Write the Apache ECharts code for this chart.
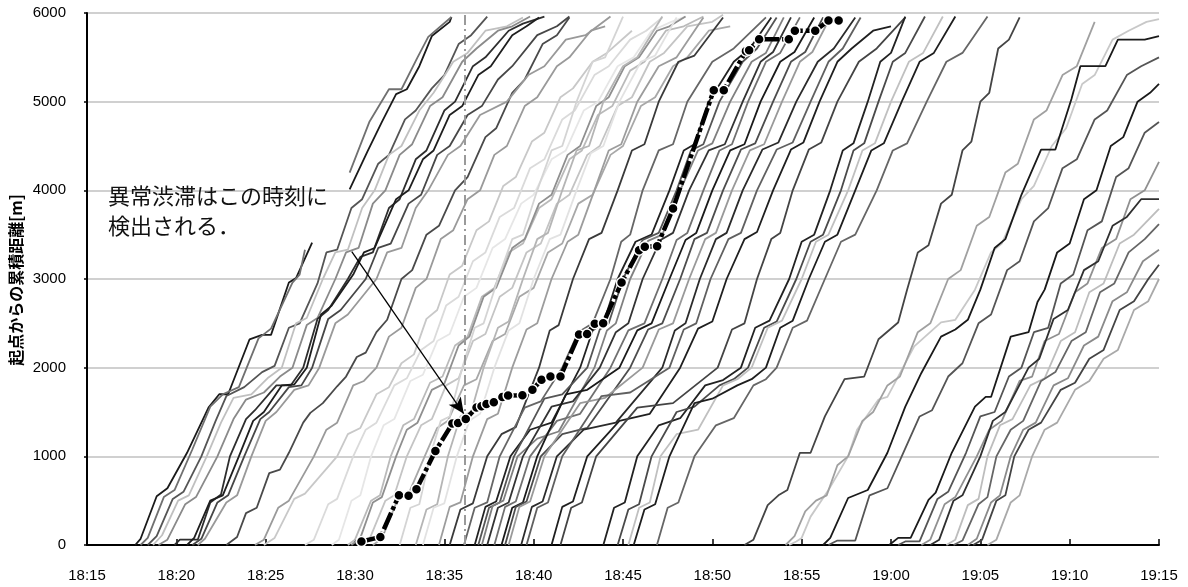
<!DOCTYPE html>
<html><head><meta charset="utf-8">
<script src="https://cdn.jsdelivr.net/npm/echarts/dist/echarts.min.js"></script>
<style>html,body{margin:0;padding:0;background:#fff}#c{width:1188px;height:587px}</style>
</head><body><div id="c"></div>
<script>
// x values: minutes after 18:15 ; y values: cumulative distance [m]
const xTickLabels = ['18:15','18:20','18:25','18:30','18:35','18:40','18:45','18:50','18:55','19:00','19:05','19:10','19:15'];
const yTickLabels = ['0','1000','2000','3000','4000','5000','6000'];
const detectTime = 21.14;
const arrowFrom = [14.82, 3310];
const arrowTo = [21.09, 1480];
const noteLines = ['異常渋滞はこの時刻に', '検出される．'];
const yName = '起点からの累積距離[m]';

// highlighted vehicle
const hlPath = [[15.36,40],[16.42,90],[17.46,560],[18.0,555],[18.44,630],[19.5,1060],[20.45,1370],[20.77,1375],[21.2,1420],[21.8,1550],[22.08,1565],[22.36,1590],[22.77,1610],[23.25,1670],[23.57,1685],[24.37,1690],[24.93,1750],[25.44,1865],[25.94,1900],[26.5,1900],[27.54,2375],[27.99,2380],[28.42,2495],[28.89,2500],[29.92,2960],[30.9,3325],[31.22,3365],[31.91,3370],[32.8,3795],[35.08,5130],[35.64,5130],[36.88,5570],[37.06,5580],[37.62,5705],[39.28,5705],[39.62,5800],[40.76,5800],[41.5,5915],[42.07,5915]];

// early vehicles
const groupA = [
 [[2.7,0],[3.0,70],[3.9,550],[4.5,640],[5.6,1040],[6.8,1550],[7.4,1700],[7.9,1700],[9.1,2320],[9.8,2370],[10.3,2370],[11.3,2960],[11.7,3010],[12.6,3410]],
 [[14.7,4010],[15.7,4440],[16.5,4770],[17.3,5085],[17.9,5140],[18.6,5400],[19.3,5740],[20.3,5900],[20.4,5955]],
 [[3.0,0],[3.4,80],[4.3,540],[4.9,620],[5.9,1080],[6.9,1560],[7.6,1700],[8.5,1780],[9.6,2330],[10.3,2440],[11.5,2960],[11.9,3050],[12.2,3330]],
 [[14.7,4200],[15.8,4770],[16.9,5140],[17.6,5140],[18.5,5500],[19.1,5730],[20.4,5955]],
 [[3.4,0],[3.9,100],[4.8,520],[5.4,600],[6.4,1000],[7.2,1400],[7.8,1680],[8.8,1780],[9.8,1950],[10.5,2020],[11.3,2450],[11.9,2500],[12.9,2950],[13.4,3300],[14.0,3330],[14.8,3800],[15.4,3900],[16.3,4300],[16.9,4400],[17.8,4800],[18.4,4900],[19.3,5150],[20.0,5300],[20.8,5650],[21.5,5750],[22.4,5960]],
 [[3.7,0],[4.2,110],[5.1,500],[5.7,560],[6.7,1000],[7.5,1380],[8.2,1660],[9.2,1700],[10.1,1880],[10.9,2000],[11.7,2500],[12.3,2560],[13.2,3000],[13.9,3300],[14.6,3330],[15.4,3800],[16.1,4000],[16.9,4400],[17.6,4500],[18.6,4900],[19.4,5100],[20.5,5450],[21.3,5550],[22.3,5800],[23.5,5850],[24.4,5950]],
 [[4.0,0],[4.5,60],[5.5,460],[6.1,540],[7.3,1000],[8.2,1420],[8.9,1640],[9.9,1720],[10.8,1900],[11.5,2000],[12.3,2480],[12.9,2560],[13.9,3000],[14.5,3300],[15.2,3350],[16.0,3850],[16.7,4000],[17.5,4400],[18.2,4520],[19.2,4950],[19.9,5050],[21.0,5450],[21.8,5600],[23.0,5800],[23.8,5850],[24.8,5960]],
 [[4.9,0],[5.2,60],[6.2,60],[6.9,480],[7.5,570],[8.0,1000],[8.9,1420],[9.4,1520],[10.6,1800],[11.4,1800],[12.1,2000],[12.9,2550],[13.5,2650],[14.6,3000],[15.3,3250],[16.0,3300],[16.9,3800],[17.5,3900],[18.4,4350],[19.0,4450],[20.0,4900],[20.6,5000],[21.6,5400],[22.3,5500],[23.6,5800],[24.4,5880],[25.6,5960]],
 [[5.6,0],[6.0,80],[6.9,500],[7.6,560],[8.5,1000],[9.3,1400],[9.9,1500],[10.9,1800],[11.6,1810],[12.3,2000],[13.1,2600],[13.7,2700],[14.9,3050],[15.5,3300],[16.1,3350],[17.3,3900],[18.0,4000],[18.8,4350],[19.4,4450],[20.3,4850],[21.0,4950],[21.9,5300],[22.6,5400],[23.8,5750],[24.6,5850],[25.3,5950]],
 [[5.9,0],[6.4,70],[7.3,480],[7.9,560],[8.8,1000],[9.7,1420],[10.2,1500],[11.3,1780],[12.0,1800],[12.6,2000],[13.5,2550],[14.2,2650],[15.6,3000],[16.3,3350],[17.0,3400],[18.0,3850],[18.7,3950],[19.6,4400],[20.3,4500],[21.3,4850],[22.1,4950],[23.0,5250],[23.8,5400],[25.2,5750],[26.3,5850],[27.0,5960]],
 [[6.2,0],[6.6,70],[7.8,480],[8.4,560],[9.2,1000],[10.0,1400],[10.6,1500],[11.6,1750],[12.4,1800],[13.0,2000],[13.9,2500],[14.6,2600],[16.2,3000],[16.8,3300],[17.6,3350],[18.4,3800],[19.1,4000],[20.2,4400],[20.9,4500],[22.0,4850],[23.5,5000],[24.7,5300],[25.6,5400],[26.8,5700],[27.9,5750],[29.3,5960]]
];
const colorsA = ['#1a1a1a','#1a1a1a','#707070','#707070','#555555','#c0c0c0','#8a8a8a','#2e2e2e','#1e1e1e','#474747','#999999'];

// second wave, mostly light
const groupB = [
 [[7.8,0],[8.4,90],[8.9,360],[9.5,420],[10.2,810],[10.8,850],[11.3,1040],[12.1,1380],[12.5,1490],[13.2,1600],[14.0,1790],[14.5,1900],[15.1,2120],[15.6,2170],[16.2,2400],[16.8,2540],[17.6,3000],[18.2,3100],[19.0,3500],[19.7,3600],[20.6,4000],[21.3,4150],[22.3,4600],[22.9,4700],[23.8,5100],[24.5,5250],[25.5,5650],[26.3,5750],[27.0,5950]],
 [[9.4,0],[9.9,60],[10.7,420],[11.3,500],[12.7,1000],[13.4,1300],[14.0,1380],[14.9,1800],[15.5,1850],[16.2,2000],[16.9,2350],[17.6,2450],[18.4,2900],[19.0,3000],[19.8,3450],[20.5,3550],[21.3,3900],[22.0,4000],[22.8,4400],[23.5,4500],[24.5,4950],[25.2,5050],[26.3,5400],[27.0,5500],[28.2,5800],[29.0,5850]],
 [[9.9,0],[10.5,80],[11.6,520],[12.2,580],[14.0,1000],[14.6,1250],[15.3,1320],[16.2,1700],[16.9,1780],[17.6,2050],[18.3,2150],[19.0,2550],[19.6,2650],[20.3,3050],[21.0,3150],[21.8,3550],[22.5,3650],[23.3,4050],[24.0,4150],[24.9,4550],[25.6,4650],[26.5,5050],[27.2,5150],[28.3,5450],[29.1,5550],[30.5,5800]],
 [[12.2,0],[12.7,60],[13.5,460],[14.0,520],[14.9,1000],[15.6,1300],[16.2,1380],[17.2,1800],[17.9,1880],[18.7,2200],[19.4,2300],[20.1,2700],[20.8,2800],[21.6,3200],[22.3,3300],[23.1,3700],[23.9,3800],[24.8,4250],[25.6,4350],[26.6,4800],[27.3,4900],[28.4,5300],[29.2,5400],[30.4,5700],[31.3,5800],[32.2,5950]],
 [[13.7,0],[14.1,60],[14.8,500],[15.3,560],[15.9,1000],[16.6,1350],[17.2,1420],[18.1,1850],[18.8,1920],[19.6,2300],[20.3,2380],[21.1,2800],[21.8,2900],[22.7,3350],[23.4,3450],[24.3,3850],[25.0,3950],[26.0,4350],[26.8,4450],[27.8,4900],[28.6,5000],[29.7,5400],[30.6,5500],[31.6,5800],[32.7,5900],[33.5,5960]],
 [[14.6,0],[15.0,60],[15.9,500],[16.4,560],[17.0,1000],[17.7,1350],[18.3,1420],[19.2,1830],[19.9,1900],[20.6,2250],[21.3,2350],[22.1,2800],[22.8,2900],[23.6,3300],[24.4,3400],[25.3,3800],[26.0,3900],[27.0,4350],[27.7,4450],[28.6,4850],[29.4,4950],[30.4,5350],[31.2,5450],[32.4,5800],[33.4,5850],[34.5,5960]],
 [[14.8,0],[15.3,80],[16.0,480],[16.5,540],[17.3,1000],[17.9,1300],[18.5,1380],[19.3,1750],[20.0,1820],[20.8,2250],[21.4,2350],[22.2,2800],[22.9,2900],[23.8,3350],[24.5,3450],[25.3,3850],[26.0,3950],[26.9,4400],[27.6,4500],[28.5,4950],[29.2,5050],[30.1,5400],[30.9,5500],[31.9,5800],[32.6,5850],[33.5,5960]],
 [[15.3,0],[15.8,60],[16.7,500],[17.2,560],[17.9,1000],[18.7,1350],[19.3,1420],[20.1,1800],[20.8,1880],[21.6,2300],[22.3,2380],[23.1,2800],[23.8,2900],[24.6,3300],[25.4,3400],[26.3,3850],[27.0,3950],[28.0,4400],[28.7,4500],[29.7,4950],[30.5,5050],[31.5,5450],[32.3,5550],[33.6,5850],[35.0,5900],[35.6,5980]],
 [[16.0,0],[16.5,70],[17.4,520],[18.0,580],[18.9,1000],[19.6,1320],[20.2,1400],[21.1,1800],[21.8,1870],[22.7,2300],[23.4,2380],[24.2,2800],[25.0,2900],[25.8,3300],[26.6,3400],[27.5,3850],[28.3,3950],[29.3,4400],[30.0,4500],[31.0,4950],[31.8,5050],[32.8,5400],[33.6,5500],[34.8,5800],[36.0,5850]]
];
const colorsB = ['#4a4a4a','#9a9a9a','#c8c8c8','#dadada','#e6e6e6','#bababa','#8f8f8f','#c4c4c4','#a8a8a8'];

// dense wave around the incident
const groupC = [
 [[17.5,0],[18.1,420],[18.6,460],[19.2,1000],[19.8,1400],[20.3,1450],[21.0,2000],[21.7,2450],[22.2,2500],[23.0,3000],[23.8,3450],[24.4,3500],[25.2,4000],[26.0,4450],[26.6,4500],[27.4,5000],[28.3,5450],[29.0,5500],[30.0,5960]],
 [[18.4,0],[19.0,400],[19.6,460],[20.2,1000],[20.9,1450],[21.5,1500],[22.2,2000],[23.0,2450],[23.6,2520],[24.4,3000],[25.2,3450],[25.8,3520],[26.6,4000],[27.4,4450],[28.1,4500],[28.9,5000],[30.0,5400],[30.8,5500],[32.2,5960]],
 [[18.8,0],[19.4,420],[20.0,470],[20.7,1000],[21.4,1400],[22.0,1480],[22.8,2000],[23.6,2420],[24.2,2500],[25.0,3000],[25.9,3450],[26.5,3500],[27.4,4000],[28.2,4420],[28.9,4500],[29.8,5000],[31.0,5450],[31.8,5520],[33.0,5950]],
 [[19.7,0],[20.3,430],[20.9,480],[21.6,1000],[22.4,1420],[23.0,1480],[23.8,2000],[24.6,2430],[25.2,2500],[26.0,3000],[26.9,3420],[27.5,3500],[28.4,4000],[29.2,4450],[29.9,4520],[30.8,5000],[32.0,5400],[33.0,5500],[34.5,5950]],
 [[20.3,0],[20.9,400],[21.6,470],[22.4,1000],[23.2,1250],[24.0,1330],[25.3,2000],[25.9,2420],[26.4,2480],[27.2,3000],[28.1,3450],[28.8,3520],[29.7,4000],[30.5,4450],[31.2,4520],[32.0,5000],[33.1,5450],[34.0,5520],[35.6,5950]],
 [[21.1,0],[21.7,420],[22.4,480],[23.1,1000],[24.5,1550],[25.4,1620],[26.6,2000],[27.5,2400],[28.3,2500],[29.3,3000],[29.9,3420],[30.4,3500],[31.1,4000],[32.0,4450],[32.8,4520],[33.6,5000],[35.0,5450],[36.2,5600],[38.0,5950]],
 [[21.7,0],[22.3,430],[22.9,490],[23.7,1000],[24.8,1300],[26.0,1380],[27.6,2000],[28.3,2420],[28.9,2500],[29.7,3000],[30.7,3420],[31.6,3500],[32.6,4000],[33.4,4450],[34.0,4520],[34.8,5000],[36.2,5450],[37.1,5600],[38.3,5950]],
 [[21.9,0],[22.5,420],[23.1,480],[23.9,1000],[25.6,1650],[26.6,1700],[28.0,2000],[28.7,2430],[29.2,2500],[30.0,3000],[31.1,3440],[32.0,3520],[33.0,4000],[33.8,4450],[34.5,4520],[35.4,5000],[36.7,5450],[37.5,5600],[38.6,5950]],
 [[22.1,0],[22.7,440],[23.3,500],[24.1,1000],[25.2,1200],[26.4,1280],[28.4,2000],[29.1,2420],[29.6,2500],[30.4,3000],[31.4,3430],[32.2,3500],[33.2,4000],[34.2,4450],[35.0,4530],[36.0,5000],[37.2,5450],[38.0,5550],[39.0,5950]],
 [[22.4,0],[23.0,420],[23.6,480],[24.4,1000],[26.0,1560],[27.2,1620],[28.7,2000],[29.6,2400],[30.3,2500],[31.1,3000],[32.1,3440],[32.8,3520],[33.7,4000],[34.8,4450],[35.7,4520],[36.7,5000],[37.7,5450],[38.4,5560],[39.4,5950]],
 [[22.8,0],[23.4,430],[24.0,490],[24.8,1000],[26.3,1400],[27.6,1480],[29.3,2000],[30.3,2420],[31.2,2500],[32.2,3000],[33.0,3440],[33.6,3520],[34.5,4000],[35.4,4450],[36.1,4520],[37.0,5000],[38.0,5450],[38.8,5550],[39.9,5950]],
 [[23.2,0],[23.8,420],[24.4,480],[25.2,1000],[26.8,1700],[28.0,1750],[29.8,2000],[30.8,2420],[31.6,2500],[32.6,3000],[33.5,3440],[34.1,3520],[35.0,4000],[36.0,4450],[36.8,4520],[37.7,5000],[38.8,5450],[39.6,5560],[40.7,5950]],
 [[23.4,0],[24.0,430],[24.6,490],[25.4,1000],[26.6,1250],[28.0,1320],[30.4,2000],[31.4,2430],[32.2,2500],[33.2,3000],[34.0,3450],[34.7,3520],[35.6,4000],[36.6,4460],[37.4,4530],[38.4,5000],[39.4,5450],[40.2,5560],[41.2,5950]],
 [[23.6,0],[24.2,430],[24.8,490],[25.6,1000],[27.6,1600],[29.0,1660],[31.1,2000],[32.0,2430],[32.8,2500],[33.7,3000],[34.6,3450],[35.2,3520],[36.1,4000],[37.1,4450],[37.9,4520],[38.9,5000],[39.9,5450],[40.6,5560],[41.6,5950]],
 [[24.3,0],[24.9,430],[25.5,490],[26.3,1000],[27.8,1300],[29.6,1380],[32.2,2000],[32.9,2420],[33.5,2500],[34.3,3000],[35.2,3450],[35.8,3520],[36.7,4000],[37.8,4460],[38.7,4540],[39.7,5000],[40.9,5450],[41.8,5600],[43.0,5950]],
 [[24.6,0],[25.2,420],[25.8,480],[26.6,1000],[28.8,1680],[30.4,1720],[32.6,2000],[33.4,2430],[34.1,2500],[34.9,3000],[35.9,3450],[36.6,3520],[37.5,4000],[38.6,4460],[39.5,4540],[40.5,5000],[41.5,5450],[42.3,5600],[43.3,5950]],
 [[26.0,0],[26.6,430],[27.2,490],[28.0,1000],[29.8,1400],[31.5,1480],[33.2,2000],[34.2,2440],[35.0,2520],[35.8,3000],[36.8,3450],[37.5,3530],[38.4,4000],[39.4,4460],[40.1,4540],[41.0,5000],[42.0,5450],[42.8,5600],[44.0,5800],[45.0,5850]],
 [[26.5,0],[27.1,420],[27.7,480],[28.5,1000],[30.8,1550],[32.8,1600],[35.3,2000],[36.1,2430],[36.8,2500],[37.5,3000],[38.3,3450],[38.8,3520],[39.5,4000],[40.4,4460],[41.1,4540],[42.0,5000],[43.2,5450],[44.2,5600],[45.8,5950]]
];
const colorsC = ['#d4d4d4','#b5b5b5','#e2e2e2','#9c9c9c','#3a3a3a','#666666','#222222','#555555','#808080','#333333','#707070','#1a1a1a','#4d4d4d','#999999','#2b2b2b','#606060','#1f1f1f','#444444'];

// queue-affected wave
const groupD = [
 [[28.9,0],[29.5,420],[30.1,480],[30.8,1000],[32.0,1350],[33.2,1430],[34.6,1800],[35.6,1860],[36.6,2000],[37.4,2450],[38.2,2530],[39.3,3000],[40.0,3420],[40.7,3500],[41.6,4000],[42.3,4450],[42.9,4530],[43.7,5000],[44.4,5450],[45.0,5550],[45.8,5960]],
 [[29.7,0],[30.3,400],[30.9,460],[31.6,1000],[33.0,1500],[34.0,1560],[35.4,1800],[36.2,1870],[37.0,2000],[37.9,2450],[38.6,2520],[39.7,3000],[40.5,3420],[41.2,3500],[42.2,4000],[42.9,4450],[43.5,4530],[44.3,5000],[45.1,5450],[45.8,5550],[46.9,5960]],
 [[30.3,0],[30.9,420],[31.5,480],[32.1,1000],[33.0,1250],[34.2,1300],[35.6,1800],[36.4,1870],[37.2,2000],[38.1,2450],[38.9,2530],[40.0,3000],[40.8,3420],[41.5,3500],[42.6,4000],[43.4,4450],[44.1,4530],[45.0,5000],[46.0,5450],[46.8,5550],[47.9,5960]],
 [[30.6,0],[31.2,400],[31.8,460],[32.6,1000],[34.0,1600],[35.0,1650],[36.4,1800],[37.2,1870],[38.0,2000],[38.8,2450],[39.5,2530],[40.4,3000],[41.3,3420],[42.0,3500],[43.0,4000],[43.9,4450],[44.6,4530],[45.6,5000],[46.6,5450],[47.4,5550],[48.6,5960]],
 [[31.9,0],[32.5,420],[33.1,480],[34.0,1000],[35.2,1350],[36.2,1430],[37.3,1800],[38.0,1870],[38.6,2000],[39.5,2450],[40.3,2530],[41.3,3000],[42.2,3420],[43.0,3500],[44.2,4000],[45.1,4450],[45.9,4530],[47.0,5000],[48.1,5450],[49.0,5550],[50.4,5960]]
];
const colorsD = ['#222222','#4a4a4a','#c0c0c0','#1e1e1e','#666666'];

const groupE = [
 [[36.8,0],[37.3,60],[38.1,450],[38.7,560],[39.2,620],[39.9,1040],[40.5,1040],[41.3,1450],[42.4,1870],[43.5,1900],[44.3,2320],[45.4,2510],[45.9,2880],[46.5,3300],[47.1,3380],[47.8,3850],[48.4,3950],[49.0,4450],[49.5,4550],[50.0,5000],[50.5,5100],[51.0,5600],[51.6,5700],[52.2,5950]],
 [[39.3,0],[39.7,40],[40.0,80],[40.5,320],[41.5,620],[42.6,1000],[43.1,1300],[44.3,1640],[44.8,1670],[46.3,2240],[47.8,2510],[48.6,2540],[49.7,2880],[50.6,3300],[51.2,3400],[52.3,3900],[53.0,4050],[54.0,4500],[54.8,4700],[55.7,5200],[56.4,5300],[57.4,5700],[58.3,5800],[59.3,5900],[60,5930]],
 [[41.2,0],[41.6,80],[42.6,530],[43.7,620],[44.8,1040],[45.8,1560],[46.7,1940],[47.8,2350],[48.6,2430],[49.3,2540],[50.0,2880],[50.8,3350],[51.4,3450],[52.3,3950],[53.4,4460],[54.2,4460],[55.1,5030],[55.6,5400],[57.0,5400],[57.7,5700],[59.2,5700],[60,5740]],
 [[41.5,0],[42.0,50],[43.0,50],[43.8,560],[44.8,640],[45.6,1000],[46.6,1450],[47.3,1520],[48.2,1900],[49.0,2050],[49.9,2500],[50.6,2600],[51.5,3100],[52.2,3200],[53.0,3650],[53.8,3800],[54.6,4250],[55.4,4350],[56.4,4800],[57.1,4900],[58.2,5300],[59.0,5400],[60,5500]],
 [[39.1,0],[39.6,100],[40.2,380],[40.8,500],[41.4,560],[42.0,900],[42.6,1000],[43.4,1400],[44.0,1500],[44.8,1800],[45.5,1900],[46.5,2400],[47.2,2500],[48.2,3000],[48.9,3100],[49.8,3600],[50.5,3700],[51.4,4200],[52.1,4300],[53.0,4800],[53.7,4900],[54.6,5300],[55.4,5400],[56.4,5900]]
];
const colorsE = ['#444444','#c8c8c8','#1a1a1a','#555555','#a0a0a0'];

const groupF = [
 [[44.9,0],[45.4,80],[46.1,80],[47.1,510],[47.5,590],[48.4,1040],[49.7,1560],[50.3,1670],[50.6,1670],[51.7,2350],[52.7,2400],[53.2,2740],[53.6,2880],[54.3,3300],[55.0,3400],[55.8,3900],[56.5,4000],[57.3,4500],[58.0,4600],[58.8,5000],[59.5,5100],[60,5200]],
 [[45.4,0],[45.8,40],[46.6,40],[47.6,520],[48.2,600],[49.2,1040],[50.0,1450],[50.8,1500],[51.6,1900],[52.3,2000],[53.0,2400],[53.8,2450],[54.5,2950],[55.2,3050],[56.0,3550],[56.8,3650],[57.6,4150],[58.3,4250],[59.2,4650],[60,4770]],
 [[46.7,0],[47.2,60],[48.0,460],[48.6,540],[49.8,1000],[50.5,1300],[51.2,1400],[52.2,1850],[52.9,1900],[53.6,2300],[54.4,2380],[55.3,2850],[56.0,2950],[56.8,3350],[57.6,3450],[58.4,3900],[59.2,4000],[60,4320]],
 [[47.2,0],[47.7,60],[48.5,500],[49.0,560],[50.0,1000],[50.7,1400],[51.4,1500],[52.7,2000],[53.3,2100],[54.1,2550],[54.9,2650],[55.8,3100],[56.6,3200],[57.4,3600],[58.2,3700],[59.0,3900],[60,3900]],
 [[48.1,0],[48.6,60],[49.3,450],[49.9,520],[50.4,1000],[51.1,1350],[51.8,1420],[52.8,1800],[53.6,1880],[54.5,2300],[55.3,2400],[56.1,2850],[56.9,2950],[57.8,3400],[58.6,3500],[60,3790]],
 [[48.5,0],[49.0,50],[49.9,460],[50.4,540],[50.9,1000],[51.7,1300],[52.4,1400],[53.4,1850],[54.2,1950],[55.1,2300],[55.9,2400],[56.7,2850],[57.5,2950],[58.3,3300],[59.2,3450],[60,3620]],
 [[49.3,0],[49.8,70],[50.6,480],[51.1,560],[51.7,1000],[52.4,1300],[53.1,1380],[54.1,1800],[54.9,1880],[55.8,2250],[56.6,2350],[57.4,2750],[58.2,2850],[59.1,3200],[60,3330]],
 [[49.6,0],[50.1,60],[50.9,500],[51.4,560],[51.9,1000],[52.7,1300],[53.4,1380],[54.5,1750],[55.3,1830],[56.1,2100],[56.9,2200],[57.8,2650],[58.6,2750],[59.4,3000],[60,3160]],
 [[50.4,0],[50.9,60],[51.7,480],[52.2,560],[52.9,1000],[53.6,1300],[54.3,1380],[55.3,1750],[56.1,1850],[56.9,2100],[57.7,2200],[58.6,2650],[59.4,2750],[60,3000]]
];
const colorsF = ['#1a1a1a','#555555','#909090','#303030','#bdbdbd','#666666','#8a8a8a','#444444','#a9a9a9'];

const series = [];
function addGroup(group, colors) {
  group.forEach(function (pts, i) {
    series.push({
      type: 'line', data: pts, showSymbol: false, silent: true, animation: false,
      lineStyle: { color: colors[i], width: 1.8 }, itemStyle: { color: colors[i] }, z: 2
    });
  });
}
addGroup(groupB, colorsB);
addGroup(groupC, colorsC);
addGroup(groupA, colorsA);
addGroup(groupD, colorsD);
addGroup(groupE, colorsE);
addGroup(groupF, colorsF);

// detection time vertical line
series.push({
  type: 'line', data: [], silent: true, animation: false, z: 1,
  markLine: {
    silent: true, symbol: ['none', 'none'], label: { show: false },
    lineStyle: { color: '#9a9a9a', width: 2, type: [10, 4, 2, 4] },
    data: [[{ coord: [detectTime, 0] }, { coord: [detectTime, 6000] }]]
  }
});
// highlighted trajectory
series.push({
  type: 'line', data: hlPath, silent: true, animation: false, z: 5,
  symbol: 'circle', symbolSize: 10, showSymbol: true,
  lineStyle: { color: '#000', width: 4.5, type: [18, 3, 4, 3] },
  itemStyle: { color: '#000', borderColor: '#fff', borderWidth: 1.5 }
});
// arrow
series.push({
  type: 'line', data: [], silent: true, animation: false, z: 6,
  markLine: {
    silent: true, symbol: ['none', 'arrow'], symbolSize: [11, 16], label: { show: false },
    lineStyle: { color: '#000', width: 1.3, type: 'solid' },
    data: [[{ coord: arrowFrom }, { coord: arrowTo }]]
  }
});

const chart = echarts.init(document.getElementById('c'), null, { renderer: 'canvas' });
chart.setOption({
  animation: false,
  backgroundColor: '#fff',
  grid: { left: 87, right: 29, top: 13, bottom: 42 },
  xAxis: {
    type: 'value', min: 0, max: 60, interval: 5,
    axisLine: { show: true, onZero: false, lineStyle: { color: '#000', width: 2 } },
    axisTick: { show: true, inside: true, length: 6, lineStyle: { color: '#000', width: 1.5 } },
    axisLabel: { margin: 23, color: '#000', fontSize: 15, fontFamily: 'Liberation Sans, Arial, sans-serif',
      formatter: function (v) { return xTickLabels[Math.round(v / 5)]; } },
    splitLine: { show: false }
  },
  yAxis: {
    type: 'value', min: 0, max: 6000, interval: 1000,
    axisLine: { show: true, lineStyle: { color: '#000', width: 2 } },
    axisTick: { show: true, length: 3, lineStyle: { color: '#000', width: 1.5 } },
    axisLabel: { margin: 21, color: '#000', fontSize: 15, fontFamily: 'Liberation Sans, Arial, sans-serif',
      formatter: function (v) { return yTickLabels[Math.round(v / 1000)]; } },
    splitLine: { show: true, lineStyle: { color: '#c0c0c0', width: 1.5 } }
  },
  graphic: [
    { type: 'text', left: 108, top: 181, z: 10,
      style: { text: noteLines.join('\n'), fontSize: 22, lineHeight: 30, fill: '#111',
        fontFamily: '"Noto Sans CJK JP", sans-serif' } },
    { type: 'text', x: 16, y: 280, rotation: Math.PI / 2, z: 10,
      style: { text: yName, fontSize: 16, fontWeight: 'bold', fill: '#000', align: 'center', verticalAlign: 'middle',
        fontFamily: '"Noto Sans CJK JP", sans-serif' } }
  ],
  series: series
});
</script></body></html>
